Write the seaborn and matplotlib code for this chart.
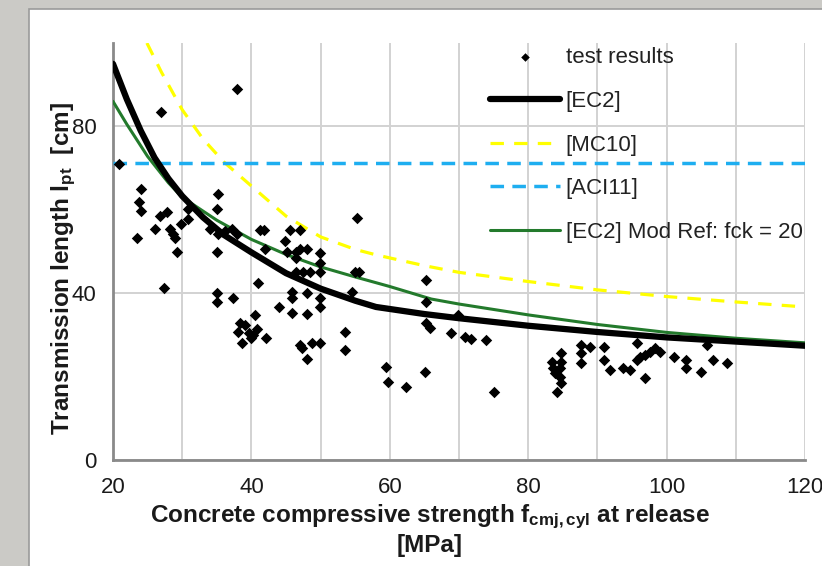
import matplotlib
matplotlib.use('Agg')
import matplotlib.pyplot as plt
import seaborn as sns
from matplotlib.patches import Rectangle

# ---------------- data ----------------
test_x = [20.9, 24.1, 23.8, 24.1, 23.4, 26.1, 26.8, 27.8, 28.2, 28.6, 29.0, 29.2, 29.8, 30.8, 30.9,
          27.3, 35.2, 35.0, 34.0, 35.2, 35.0, 36.2, 37.2, 37.9, 35.0, 35.1, 37.4, 27.0, 37.9,
          38.4, 39.1, 38.1, 39.6, 38.6, 40.0, 40.5, 40.3, 42.1, 40.8,
          41.2, 41.8, 42.0, 40.9, 45.6, 47.0, 44.9, 45.1, 46.5, 47.0, 48.0, 49.9, 49.9, 46.5, 47.5,
          48.5, 49.9, 45.8, 45.8, 48.0, 49.9, 49.9, 44.0, 45.8, 48.0, 47.0, 47.3, 48.7, 49.9, 48.0,
          53.5, 53.5, 55.2, 55.0, 55.6, 54.5, 46.5,
          65.3, 65.3, 65.3, 65.8, 68.9, 69.9, 70.9, 71.8, 73.9, 59.5, 59.8, 62.3, 65.1, 75.0,
          83.4, 83.6, 83.9, 84.6, 84.8, 84.1, 84.8, 84.8, 84.6, 87.7, 87.7, 87.7, 88.9, 90.9, 90.9,
          91.8, 93.7, 94.7, 95.7, 95.7, 96.2, 96.9, 97.6, 98.3, 99.0, 96.9, 101.0, 102.8, 102.8,
          104.9, 106.7, 105.9, 108.7]
test_y = [71.1, 65.0, 61.8, 59.8, 53.3, 55.3, 58.5, 59.5, 55.3, 54.3, 53.3, 50.0, 56.7, 60.1, 57.7,
          41.2, 63.7, 60.1, 55.3, 54.1, 50.0, 54.9, 55.3, 54.1, 40.0, 38.0, 38.8, 83.4, 88.9,
          32.8, 32.4, 30.8, 30.4, 28.0, 29.2, 34.8, 30.0, 29.2, 31.5,
          55.1, 55.1, 50.6, 42.4, 55.1, 55.1, 52.4, 50.0, 50.0, 50.6, 50.6, 49.6, 47.2, 45.2, 45.2,
          45.2, 45.2, 40.4, 38.8, 40.0, 38.8, 36.8, 36.7, 35.2, 35.1, 27.6, 26.8, 28.0, 28.0, 24.2,
          30.8, 26.4, 58.1, 45.2, 45.2, 40.4, 48.5,
          43.2, 38.0, 32.8, 31.6, 30.4, 34.8, 29.5, 29.0, 28.7, 22.4, 18.8, 17.6, 21.2, 16.2,
          23.6, 22.0, 20.8, 20.0, 18.4, 16.4, 25.6, 23.6, 22.0, 27.6, 25.6, 23.2, 27.2, 27.2, 24.0,
          21.6, 22.0, 21.6, 28.0, 24.0, 24.8, 25.2, 26.0, 26.8, 26.0, 19.6, 24.8, 24.0, 22.0,
          21.2, 24.0, 27.6, 23.2]

ec2_x = [20, 22, 24, 26, 28, 30, 33, 36, 40, 45, 50, 55, 58, 65, 70, 80, 90, 100, 110, 120]
ec2_y = [95.0, 86.5, 79.0, 72.5, 67.5, 63.3, 58.2, 54.0, 49.8, 44.8, 41.1, 38.2, 36.7,
         35.0, 34.0, 32.2, 30.7, 29.4, 28.4, 27.4]

mc10_x = [24.9, 27, 30, 33, 36, 40, 45, 50, 55, 58, 65, 70, 80, 90, 100, 110, 120]
mc10_y = [100.0, 93.0, 84.0, 77.0, 71.5, 65.7, 58.5, 53.5, 50.5, 49.2, 46.6, 45.0, 42.8,
          40.8, 39.2, 37.9, 36.7]

aci_x = [20, 120]
aci_y = [71.2, 71.2]

mod_x = [20, 22, 25, 28, 30, 35, 40, 45, 50, 55, 60, 66, 70, 80, 90, 100, 110, 120]
mod_y = [86.0, 80.5, 72.8, 66.5, 63.0, 57.5, 52.9, 49.3, 46.3, 43.9, 41.6, 38.6, 37.4,
         34.8, 32.5, 30.6, 29.2, 28.1]

x_major = [20, 40, 60, 80, 100, 120]
x_minor = [30, 50, 70, 90, 110]
y_major = [0, 40, 80]

labels = ['test results', '[EC2]', '[MC10]', '[ACI11]', '[EC2] Mod Ref: fck = 20']

# ---------------- style ----------------
sns.set_theme(style='white')
plt.rcParams['font.family'] = ['Liberation Sans', 'DejaVu Sans']
plt.rcParams['mathtext.fontset'] = 'custom'
plt.rcParams['mathtext.rm'] = 'Liberation Sans'
plt.rcParams['mathtext.it'] = 'Liberation Sans:italic'
plt.rcParams['mathtext.bf'] = 'Liberation Sans:bold'

fig = plt.figure(figsize=(8.22, 5.66), dpi=100, facecolor='#cbcac6')
fig.add_artist(Rectangle((29 / 822, -0.01), 1.0, 1.01 - 9 / 566, transform=fig.transFigure,
                         facecolor='white', edgecolor='#9a9a9a', lw=1.2, zorder=-1))
ax = fig.add_axes([113 / 822, 106 / 566, 692 / 822, 417 / 566])
ax.set_facecolor('white')

sns.lineplot(x=mod_x, y=mod_y, ax=ax, color='#237a2c', lw=2.2, label=labels[4],
             estimator=None, sort=False, zorder=3)
sns.lineplot(x=mc10_x, y=mc10_y, ax=ax, color='#ffff00', lw=2.3, label=labels[2],
             estimator=None, sort=False, linestyle=(0, (4.2, 3.2)), zorder=3)
sns.lineplot(x=aci_x, y=aci_y, ax=ax, color='#1eaef0', lw=2.5, label=labels[3],
             estimator=None, sort=False, linestyle=(0, (3.9, 2.4)), zorder=3)
sns.lineplot(x=ec2_x, y=ec2_y, ax=ax, color='black', lw=4.5, label=labels[1],
             estimator=None, sort=False, zorder=4)
sns.scatterplot(x=test_x, y=test_y, ax=ax, marker='D', s=34, color='black',
                edgecolor='black', linewidth=0, label=labels[0], zorder=5)

ax.set_xlim(20, 120)
ax.set_ylim(0, 100)
ax.set_xticks(x_major)
ax.set_xticks(x_minor, minor=True)
ax.set_yticks(y_major)
ax.grid(axis='x', which='both', color='#d2d2d2', lw=1.4)
ax.grid(axis='y', which='major', color='#d2d2d2', lw=1.4)
ax.set_axisbelow(True)
ax.tick_params(axis='both', which='both', length=0, labelsize=16, colors='#1a1a1a', pad=12)

for s in ['top', 'right']:
    ax.spines[s].set_visible(False)
for s in ['left', 'bottom']:
    ax.spines[s].set_color('#8a8a8a')
    ax.spines[s].set_linewidth(2.0)

ax.set_xlabel('Concrete compressive strength $\\mathbf{f}_{\\mathbf{cmj,cyl}}$ at release\n[MPa]',
              fontsize=17.5, fontweight='bold', color='#1a1a1a', linespacing=1.15)
ax.set_ylabel('Transmission length $\\mathbf{l}_{\\mathbf{pt}}$  [cm]',
              fontsize=17.5, fontweight='bold', color='#1a1a1a')
ax.xaxis.set_label_coords(0.458, -0.103)
ax.yaxis.set_label_coords(-0.05, 0.458)

h, l = ax.get_legend_handles_labels()
hd = dict(zip(l, h))
leg = ax.legend([hd[k] for k in labels], labels, loc='upper left', bbox_to_anchor=(0.545, 0.99),
                frameon=False, fontsize=16, handlelength=3.15, handletextpad=0.25,
                labelspacing=1.02, borderpad=0, borderaxespad=0, markerscale=0.75)
for t in leg.get_texts():
    t.set_color('#222222')

fig.savefig('out.png', dpi=100, facecolor=fig.get_facecolor())
